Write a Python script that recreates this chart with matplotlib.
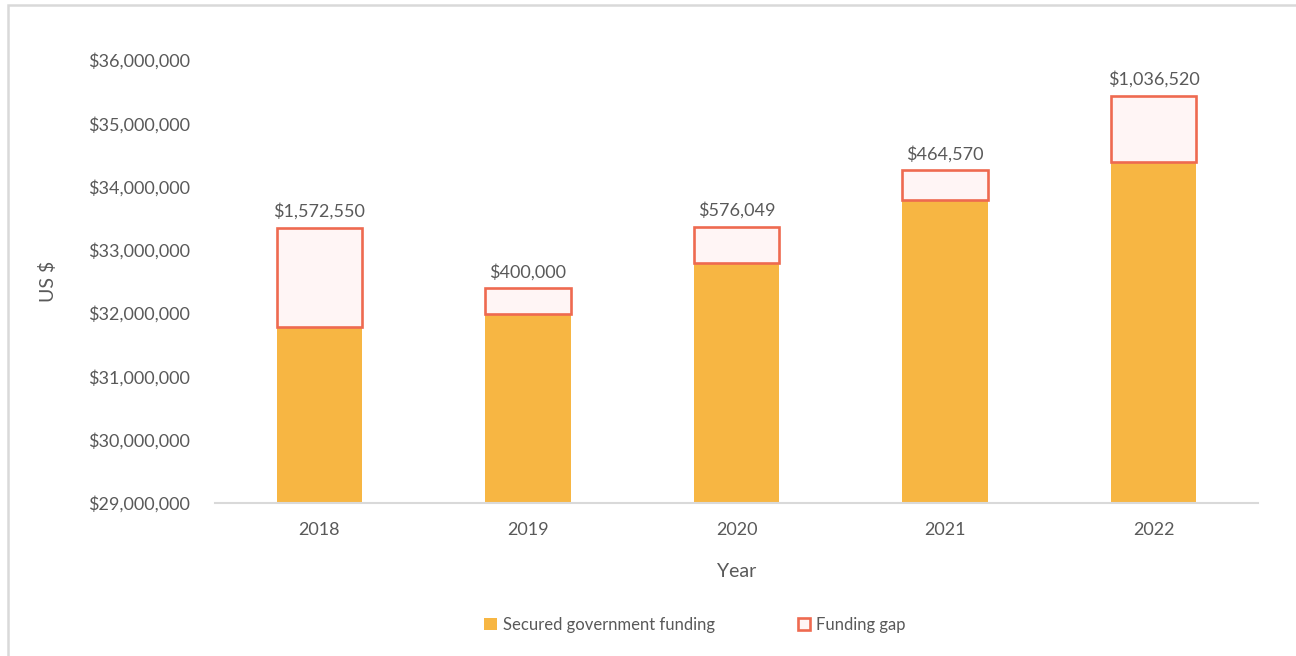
import numpy as np
import matplotlib.pyplot as plt
from matplotlib.patches import Rectangle
from matplotlib.ticker import FuncFormatter

plt.rcParams['font.family'] = ['Lato', 'DejaVu Sans']

# Funding per year (US $)
years = ['2018', '2019', '2020', '2021', '2022']
secured = [31780000, 31990000, 32790000, 33790000, 34390000]
gap = [1572550, 400000, 576049, 464570, 1036520]

orange = '#F7B643'
gap_edge = '#EE6A50'
gap_fill = '#FFF5F5'
text_gray = '#595959'

fig = plt.figure(figsize=(12.96, 6.56), dpi=100)
ax = fig.add_axes([215 / 1296, 1 - 503 / 656, 1043 / 1296, 443 / 656])

x = np.arange(len(years))
width = 0.41
base = 29000000

ax.bar(x, np.array(secured) - base, width, bottom=base, color=orange,
       label='Secured government funding', zorder=2)
ax.bar(x, gap, width, bottom=secured, facecolor=gap_fill, edgecolor=gap_edge,
       linewidth=1.9, label='Funding gap', zorder=2)

for xi, s, g in zip(x, secured, gap):
    ax.annotate(f'${g:,.0f}', (xi, s + g), xytext=(0, 6), textcoords='offset points',
                ha='center', va='bottom', fontsize=13, color=text_gray)

ax.set_ylim(base, 36000000)
ax.set_xlim(-0.5, len(years) - 0.5)
ax.set_yticks(np.arange(29000000, 36000001, 1000000))
ax.yaxis.set_major_formatter(FuncFormatter(lambda v, p: f'${v:,.0f}'))
ax.set_xticks(x)
ax.set_xticklabels(years)
ax.tick_params(axis='both', length=0, labelsize=13, labelcolor=text_gray)
ax.tick_params(axis='y', pad=18)
ax.tick_params(axis='x', pad=14)

for side in ['top', 'right', 'left']:
    ax.spines[side].set_visible(False)
ax.spines['bottom'].set_color('#D9D9D9')
ax.spines['bottom'].set_linewidth(1.5)
ax.spines['bottom'].set_zorder(3)

ax.set_ylabel('US $', fontsize=14, color=text_gray, labelpad=22)
ax.set_xlabel('Year', fontsize=14, color=text_gray, labelpad=18)

fig.legend(loc='center', bbox_to_anchor=(695 / 1296, 1 - 625 / 656), ncol=2,
           frameon=False, fontsize=12, labelcolor=text_gray, handlelength=0.75,
           handleheight=0.75, handletextpad=0.35, columnspacing=5.0)

# light outer frame
fig.patches.append(Rectangle((8 / 1296, -0.1), 1.2, 1 - 5 / 656 + 0.1,
                             transform=fig.transFigure, fill=False,
                             edgecolor='#D9D9D9', linewidth=1.8))

fig.savefig('out.png', dpi=100)
